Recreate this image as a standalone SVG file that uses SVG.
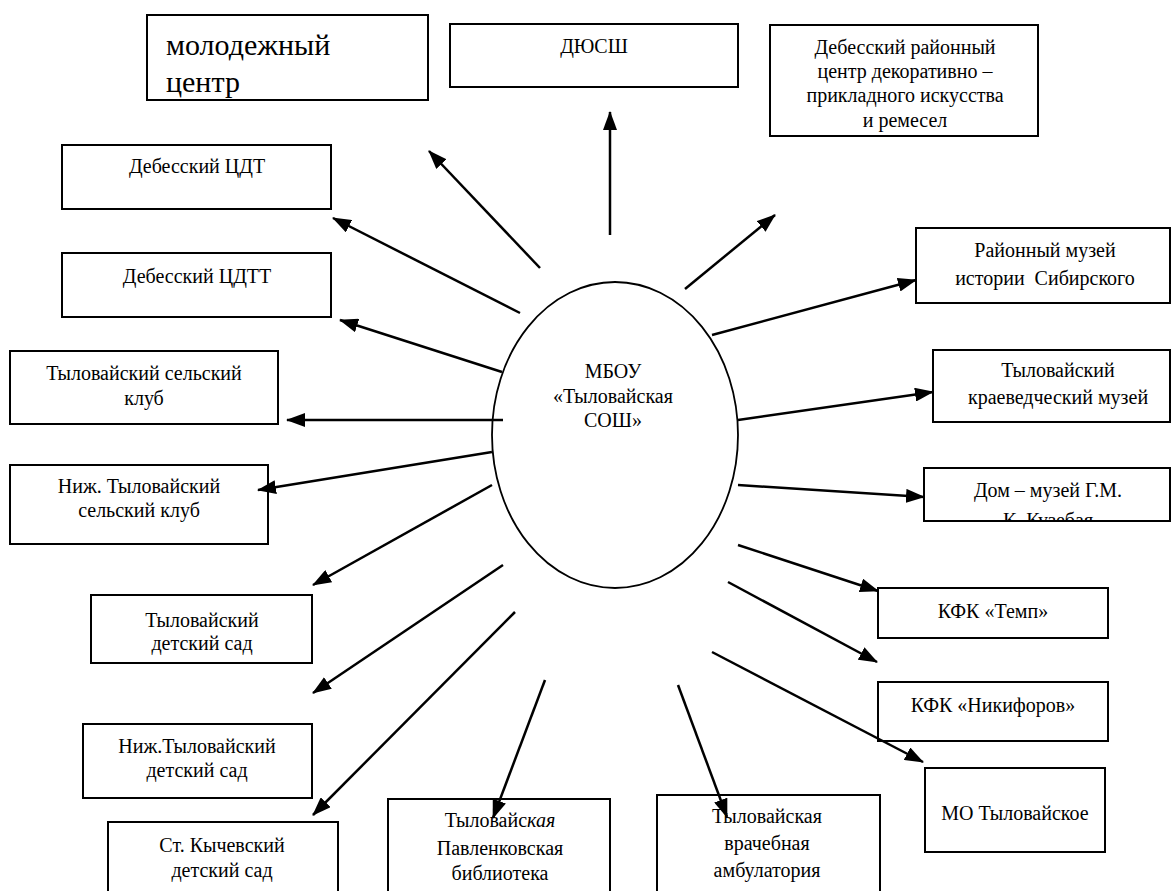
<svg xmlns="http://www.w3.org/2000/svg" width="1171" height="891" viewBox="0 0 1171 891">
<style>
.box{fill:#fff;stroke:#000;stroke-width:2}
.t{font-family:'Liberation Serif','DejaVu Serif','Noto Serif',serif;font-size:20px;fill:#000;text-anchor:middle}
.big{font-family:'Liberation Serif','DejaVu Serif','Noto Serif',serif;font-size:30px;fill:#000}
.c line{stroke:#000;stroke-width:2.5;marker-end:url(#ah)}
</style>
<defs>
<marker id="ah" markerUnits="userSpaceOnUse" markerWidth="20" markerHeight="14" refX="18" refY="7" orient="auto" viewBox="0 0 20 14">
<path d="M0,0 L19,7 L0,14 z" fill="#000"/>
</marker>
<clipPath id="cpMol"><rect x="147" y="15" width="281" height="85"/></clipPath>
<clipPath id="cpDom"><rect x="924" y="468" width="247" height="53"/></clipPath>
</defs>
<rect width="1171" height="891" fill="#fff"/>

<g id="center">
<ellipse cx="615" cy="435" rx="123" ry="153" fill="#fff" stroke="#000" stroke-width="1.8"/>
<text class="t" x="613" y="378">МБОУ</text>
<text class="t" x="613" y="403">«Тыловайская</text>
<text class="t" x="613" y="427">СОШ»</text>
</g>

<g id="n-molod">
<rect class="box" x="147" y="15" width="281" height="85"/>
<g clip-path="url(#cpMol)">
<text class="big" x="166" y="55">молодежный</text>
<text class="big" x="166" y="92">центр</text>
</g>
</g>

<g id="n-dyussh">
<rect class="box" x="450" y="24" width="288" height="63"/>
<text class="t" x="594" y="53">ДЮСШ</text>
</g>

<g id="n-dpi">
<rect class="box" x="770" y="25" width="268" height="111"/>
<text class="t" x="905" y="54">Дебесский районный</text>
<text class="t" x="905" y="78">центр декоративно –</text>
<text class="t" x="905" y="102">прикладного искусства</text>
<text class="t" x="905" y="127">и ремесел</text>
</g>

<g id="n-rmuz">
<rect class="box" x="916" y="228" width="254" height="75"/>
<text class="t" x="1045" y="257">Районный музей</text>
<text class="t" x="1045" y="285" xml:space="preserve">истории  Сибирского</text>
</g>

<g id="n-kmuz">
<rect class="box" x="933" y="350" width="237" height="72"/>
<text class="t" x="1058" y="377">Тыловайский</text>
<text class="t" x="1058" y="404">краеведческий музей</text>
</g>

<g id="n-dom">
<rect class="box" x="924" y="468" width="246" height="53"/>
<g clip-path="url(#cpDom)">
<text class="t" x="1048" y="497">Дом – музей Г.М.</text>
<text class="t" x="1048" y="527">К.  Кузебая</text>
</g>
</g>

<g id="n-temp">
<rect class="box" x="878" y="588" width="230" height="50"/>
<text class="t" x="993" y="618">КФК «Темп»</text>
</g>

<g id="n-nikif">
<rect class="box" x="878" y="682" width="230" height="59"/>
<text class="t" x="993" y="712">КФК «Никифоров»</text>
</g>

<g id="n-mo">
<rect class="box" x="925" y="768" width="180" height="84"/>
<text class="t" x="1015" y="820">МО Тыловайское</text>
</g>

<g id="n-amb">
<rect class="box" x="657" y="795" width="223" height="110"/>
<text class="t" x="767" y="823">Тыловайская</text>
<text class="t" x="767" y="850">врачебная</text>
<text class="t" x="767" y="877">амбулатория</text>
</g>

<g id="n-bib">
<rect class="box" x="388" y="799" width="222" height="110"/>
<text class="t" x="500" y="827">Тыловайс<tspan font-style="italic">кая</tspan></text>
<text class="t" x="500" y="855">Павленковская</text>
<text class="t" x="500" y="880">библиотека</text>
</g>

<g id="n-cdt">
<rect class="box" x="62" y="145" width="269" height="64"/>
<text class="t" x="197" y="173">Дебесский ЦДТ</text>
</g>

<g id="n-cdtt">
<rect class="box" x="62" y="253" width="269" height="64"/>
<text class="t" x="197" y="283">Дебесский ЦДТТ</text>
</g>

<g id="n-sk">
<rect class="box" x="10" y="351" width="268" height="73"/>
<text class="t" x="144" y="380">Тыловайский сельский</text>
<text class="t" x="144" y="405">клуб</text>
</g>

<g id="n-nsk">
<rect class="box" x="10" y="465" width="258" height="79"/>
<text class="t" x="139" y="493">Ниж. Тыловайский</text>
<text class="t" x="139" y="517">сельский клуб</text>
</g>

<g id="n-ds">
<rect class="box" x="91" y="595" width="221" height="68"/>
<text class="t" x="202" y="627">Тыловайский</text>
<text class="t" x="202" y="650">детский сад</text>
</g>

<g id="n-nds">
<rect class="box" x="83" y="724" width="229" height="74"/>
<text class="t" x="197" y="753">Ниж.Тыловайский</text>
<text class="t" x="197" y="777">детский сад</text>
</g>

<g id="n-kds">
<rect class="box" x="108" y="822" width="230" height="90"/>
<text class="t" x="222" y="852">Ст. Кычевский</text>
<text class="t" x="222" y="877">детский сад</text>
</g>

<g id="connectors" class="c">
<line x1="540" y1="268" x2="429" y2="151"/>
<line x1="610" y1="235" x2="610" y2="112"/>
<line x1="685" y1="289" x2="775" y2="215"/>
<line x1="712" y1="335" x2="916" y2="280"/>
<line x1="738" y1="420" x2="933" y2="392"/>
<line x1="738" y1="485" x2="924" y2="497"/>
<line x1="738" y1="545" x2="878" y2="591"/>
<line x1="728" y1="582" x2="877" y2="662"/>
<line x1="712" y1="652" x2="923" y2="762"/>
<line x1="678" y1="685" x2="727" y2="817"/>
<line x1="545" y1="680" x2="493" y2="818"/>
<line x1="515" y1="612" x2="313" y2="815"/>
<line x1="503" y1="565" x2="313" y2="693"/>
<line x1="492" y1="485" x2="313" y2="585"/>
<line x1="492" y1="452" x2="258" y2="490"/>
<line x1="503" y1="420" x2="287" y2="420"/>
<line x1="502" y1="372" x2="340" y2="320"/>
<line x1="520" y1="313" x2="333" y2="218"/>
</g>
</svg>
